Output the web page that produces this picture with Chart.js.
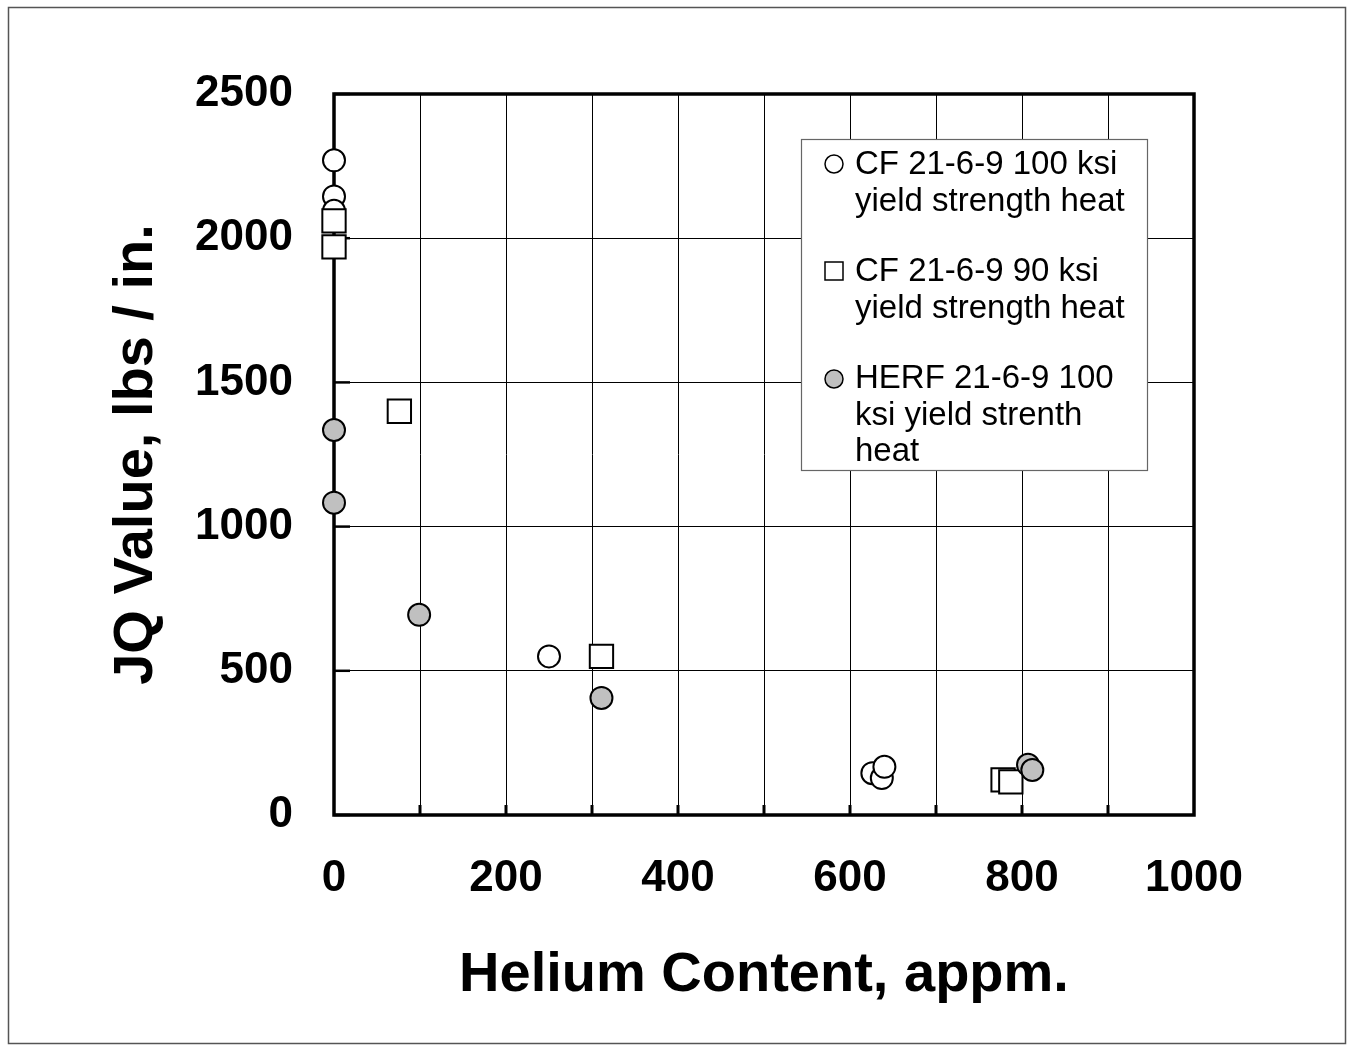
<!DOCTYPE html>
<html>
<head>
<meta charset="utf-8">
<script src="https://cdn.jsdelivr.net/npm/chart.js@4.4.1/dist/chart.umd.min.js"></script>
<style>
  html, body { margin: 0; padding: 0; background: #fff; }
  canvas { display: block; }
</style>
</head>
<body>
<canvas id="c" width="1354" height="1052"></canvas>
<script>
// ---- data ----
const seriesNames = [
  "CF 21-6-9 100 ksi yield strength heat",
  "CF 21-6-9 90 ksi yield strength heat",
  "HERF 21-6-9 100 ksi yield strenth heat"
];
const legendLines = [
  ["CF 21-6-9 100 ksi", "yield strength heat"],
  ["CF 21-6-9 90 ksi", "yield strength heat"],
  ["HERF 21-6-9 100", "ksi yield strenth", "heat"]
];
const cf100Helium = [0, 0, 0, 250, 626, 637, 640];
const cf100JQ     = [2270, 2145, 2095, 550, 145, 128, 167];
const cf90Helium  = [0, 0, 76, 311, 778, 787];
const cf90JQ      = [2060, 1970, 1400, 550, 122, 115];
const herfHelium  = [0, 0, 99, 311, 807, 812];
const herfJQ      = [1335, 1083, 694, 406, 174, 156];
const xTicks = [0, 200, 400, 600, 800, 1000];
const yTicks = [0, 500, 1000, 1500, 2000, 2500];
const xTitle = "Helium Content, appm.";
const yTitle = "JQ Value, lbs / in.";

const FONT = "'Liberation Sans', Arial, Helvetica, sans-serif";
const toPts = (xs, ys) => xs.map((x, i) => ({ x: x, y: ys[i] }));

const framePlugin = {
  id: 'frame',
  beforeDraw(chart) {
    const ctx = chart.ctx;
    ctx.save();
    ctx.fillStyle = '#fff';
    ctx.fillRect(0, 0, chart.width, chart.height);
    ctx.strokeStyle = '#555';
    ctx.lineWidth = 1.5;
    ctx.strokeRect(8.5, 7.5, 1337, 1036);
    ctx.restore();
  },
  beforeDatasetsDraw(chart) {
    const { ctx, chartArea: a, scales } = chart;
    ctx.save();
    ctx.strokeStyle = '#000';
    ctx.lineWidth = 3;
    for (let v = 100; v < 1000; v += 100) {
      const px = scales.x.getPixelForValue(v);
      ctx.beginPath();
      ctx.moveTo(px, a.bottom);
      ctx.lineTo(px, a.bottom - 10);
      ctx.stroke();
    }
    ctx.lineWidth = 2.5;
    yTicks.forEach(v => {
      const py = scales.y.getPixelForValue(v);
      ctx.beginPath();
      ctx.moveTo(a.left, py);
      ctx.lineTo(a.left + 16, py);
      ctx.stroke();
    });
    ctx.lineWidth = 3.5;
    ctx.strokeRect(a.left, a.top, a.right - a.left, a.bottom - a.top);
    ctx.restore();
  }
};

const legendPlugin = {
  id: 'customLegend',
  afterDraw(chart) {
    const ctx = chart.ctx;
    const box = { x: 801, y: 139, w: 346, h: 331 };
    ctx.save();
    ctx.fillStyle = '#fff';
    ctx.fillRect(box.x, box.y, box.w, box.h);
    ctx.strokeStyle = '#666';
    ctx.lineWidth = 1.2;
    ctx.strokeRect(box.x + 0.5, box.y + 0.5, box.w, box.h);
    ctx.font = "33px " + FONT;
    ctx.fillStyle = '#000';
    ctx.textBaseline = 'alphabetic';
    ctx.textAlign = 'left';
    const firstBase = [174, 281, 388];
    const markerY = [164, 271, 379];
    chart.data.datasets.forEach((ds, i) => {
      ctx.lineWidth = 1.5;
      ctx.strokeStyle = '#000';
      ctx.fillStyle = ds.backgroundColor;
      ctx.beginPath();
      if (ds.pointStyle === 'rect') {
        ctx.rect(834 - 9, markerY[i] - 9, 18, 18);
      } else {
        ctx.arc(834, markerY[i], 9, 0, Math.PI * 2);
      }
      ctx.fill();
      ctx.stroke();
      ctx.fillStyle = '#000';
      legendLines[i].forEach((line, j) => {
        ctx.fillText(line, 855, firstBase[i] + j * 36.5);
      });
    });
    ctx.restore();
  }
};

new Chart(document.getElementById('c'), {
  type: 'scatter',
  data: {
    datasets: [
      {
        label: seriesNames[0],
        data: toPts(cf100Helium, cf100JQ),
        pointStyle: 'circle',
        pointRadius: 11,
        pointHoverRadius: 11,
        backgroundColor: '#ffffff',
        borderColor: '#000000',
        borderWidth: 2,
        clip: false,
        order: 3
      },
      {
        label: seriesNames[1],
        data: toPts(cf90Helium, cf90JQ),
        pointStyle: 'rect',
        pointRadius: 16.5,
        pointHoverRadius: 16.5,
        backgroundColor: '#ffffff',
        borderColor: '#000000',
        borderWidth: 2,
        clip: false,
        order: 2
      },
      {
        label: seriesNames[2],
        data: toPts(herfHelium, herfJQ),
        pointStyle: 'circle',
        pointRadius: 11,
        pointHoverRadius: 11,
        backgroundColor: '#c0c0c0',
        borderColor: '#000000',
        borderWidth: 2,
        clip: false,
        order: 1
      }
    ]
  },
  options: {
    responsive: false,
    animation: false,
    devicePixelRatio: 1,
    layout: { padding: { top: 94, right: 160, left: 0, bottom: 0 } },
    plugins: {
      legend: { display: false },
      tooltip: { enabled: false }
    },
    scales: {
      x: {
        type: 'linear',
        min: 0, max: 1000,
        afterFit(s) { s.height = 237; },
        grid: { color: '#000', lineWidth: 1, drawTicks: false },
        border: { display: false },
        ticks: {
          stepSize: 100,
          autoSkip: false,
          maxRotation: 0,
          padding: 37,
          color: '#000',
          font: { family: FONT, size: 44, weight: 'bold' },
          callback: v => (xTicks.includes(v) ? String(v) : '')
        },
        title: {
          display: true,
          text: xTitle,
          color: '#000',
          font: { family: FONT, size: 56, weight: 'bold' },
          padding: { top: 0, bottom: 43 }
        }
      },
      y: {
        type: 'linear',
        min: 0, max: 2500,
        afterFit(s) { s.width = 334; },
        grid: { color: '#000', lineWidth: 1, drawTicks: false },
        border: { display: false },
        ticks: {
          stepSize: 500,
          padding: 41,
          color: '#000',
          font: { family: FONT, size: 44, weight: 'bold' },
          callback: v => (yTicks.includes(v) ? String(v) : '')
        },
        title: {
          display: true,
          text: yTitle,
          color: '#000',
          font: { family: FONT, size: 56, weight: 'bold' },
          padding: { top: 103, bottom: 0 }
        }
      }
    }
  },
  plugins: [framePlugin, legendPlugin]
});
</script>
</body>
</html>
